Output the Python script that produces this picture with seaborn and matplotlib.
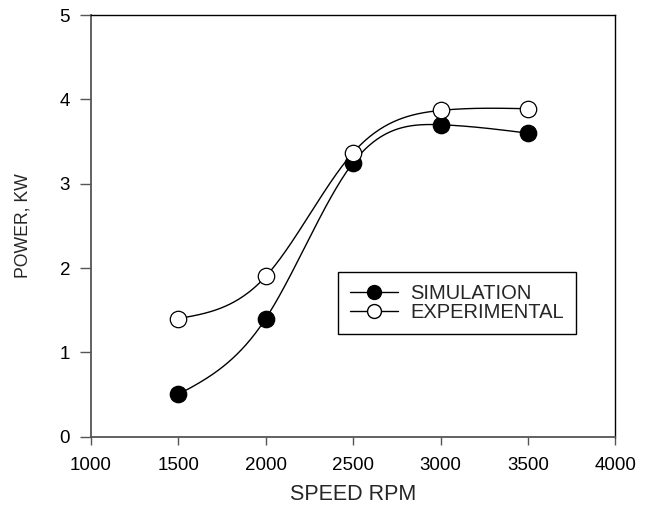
import numpy as np
import pandas as pd
import matplotlib
matplotlib.use("Agg")
import matplotlib.pyplot as plt
from matplotlib.lines import Line2D
import seaborn as sns

speed_rpm = [1500, 2000, 2500, 3000, 3500]
simulation_kw = [0.50, 1.40, 3.25, 3.70, 3.60]
experimental_kw = [1.40, 1.90, 3.37, 3.87, 3.89]
series_names = ["SIMULATION", "EXPERIMENTAL"]
x_ticks = [1000, 1500, 2000, 2500, 3000, 3500, 4000]
y_ticks = [0, 1, 2, 3, 4, 5]


def natural_spline(x, y, n=300):
    x = np.asarray(x, float)
    y = np.asarray(y, float)
    k = len(x)
    h = np.diff(x)
    A = np.zeros((k, k))
    b = np.zeros(k)
    A[0, 0] = 1
    A[-1, -1] = 1
    for i in range(1, k - 1):
        A[i, i - 1] = h[i - 1]
        A[i, i] = 2 * (h[i - 1] + h[i])
        A[i, i + 1] = h[i]
        b[i] = 3 * ((y[i + 1] - y[i]) / h[i] - (y[i] - y[i - 1]) / h[i - 1])
    c = np.linalg.solve(A, b)
    xs = np.linspace(x[0], x[-1], n)
    ys = np.empty_like(xs)
    for j, xv in enumerate(xs):
        i = min(np.searchsorted(x, xv, side="right") - 1, k - 2)
        dx = xv - x[i]
        bi = (y[i + 1] - y[i]) / h[i] - h[i] * (2 * c[i] + c[i + 1]) / 3
        di = (c[i + 1] - c[i]) / (3 * h[i])
        ys[j] = y[i] + bi * dx + c[i] * dx ** 2 + di * dx ** 3
    return xs, ys


sns.set_theme(style="ticks")
plt.rcParams["font.family"] = ["Liberation Sans", "DejaVu Sans"]

fig = plt.figure(figsize=(6.54, 5.07), dpi=100)
ax = fig.add_axes([0.139, 0.139, 0.802, 0.831])

pts = pd.DataFrame({
    "speed": speed_rpm * 2,
    "power": simulation_kw + experimental_kw,
    "series": [series_names[0]] * 5 + [series_names[1]] * 5,
})

curves = []
for name, vals in zip(series_names, [simulation_kw, experimental_kw]):
    xs, ys = natural_spline(speed_rpm, vals)
    curves.append(pd.DataFrame({"speed": xs, "power": ys, "series": name}))
curves = pd.concat(curves, ignore_index=True)

sns.lineplot(data=curves, x="speed", y="power", units="series", estimator=None,
             color="black", linewidth=1.0, ax=ax, legend=False, sort=False)

face = {series_names[0]: "black", series_names[1]: "white"}
for name in series_names:
    sub = pts[pts["series"] == name]
    sns.scatterplot(data=sub, x="speed", y="power", s=140, color=face[name],
                    edgecolor="black", linewidth=0.9, ax=ax, legend=False, zorder=5)

ax.set_xlim(1000, 4000)
ax.set_ylim(0, 5)
ax.set_xticks(x_ticks)
ax.set_yticks(y_ticks)
ax.tick_params(axis="both", labelsize=13.5, colors="black", width=1.0, direction="out")
ax.tick_params(axis="y", length=8, pad=7, color="#555555")
ax.tick_params(axis="x", length=6, pad=9, color="#555555")

for side in ["left", "bottom"]:
    ax.spines[side].set_color("#555555")
    ax.spines[side].set_linewidth(1.3)
for side in ["top", "right"]:
    ax.spines[side].set_visible(True)
    ax.spines[side].set_color("black")
    ax.spines[side].set_linewidth(1.0)

ax.set_xlabel("SPEED RPM", fontsize=15.5, labelpad=7)
ax.set_ylabel("POWER, KW", fontsize=12.7, labelpad=20)

handles = [
    Line2D([], [], color="black", linewidth=1.0, marker="o", markersize=10,
           markerfacecolor="black", markeredgecolor="black"),
    Line2D([], [], color="black", linewidth=1.0, marker="o", markersize=10,
           markerfacecolor="white", markeredgecolor="black"),
]
leg = ax.legend(handles, series_names, loc="upper left",
                bbox_to_anchor=(0.471, 0.390), borderaxespad=0,
                fontsize=14.5, frameon=True, fancybox=False, framealpha=1,
                edgecolor="black", borderpad=0.6, labelspacing=0.0,
                handlelength=2.4, handletextpad=0.6)
leg.get_frame().set_linewidth(1.0)

fig.savefig("out.png", dpi=100)
